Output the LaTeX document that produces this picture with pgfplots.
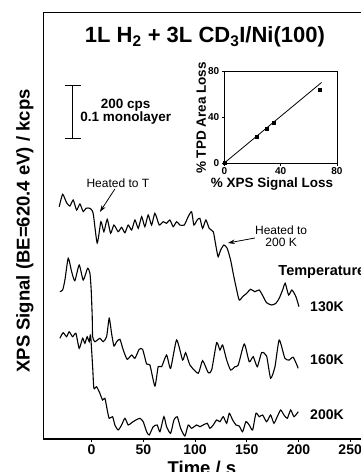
\documentclass[border=0pt]{standalone}
\usepackage{fontspec}
\setmainfont{Liberation Sans}
\usepackage{pgfplots}
\pgfplotsset{compat=1.18}
\usetikzlibrary{arrows.meta}

\pgfplotstableread{
t y
-31.3 232.3
-28.0 244.7
-24.2 236.3
-21.0 233
-17.8 239
-14.5 229
-11.3 235
-8.1 227.3
-5.5 230.7
-1.6 230.7
1.5 225.7
5.4 196
9.0 217.3
11.9 207.3
15.1 219.7
18.4 205.7
21.6 214
25.7 207.3
29.0 211.7
32.2 206.3
35.4 214
38.7 209
41.9 219
45.1 210.7
48.4 222.3
51.5 212.3
54.7 224
58.0 214
61.2 225.7
65.4 214
69.2 217.3
72.5 215.7
75.7 219
78.9 212.3
82.2 217.3
85.4 214
89.6 214
93.4 222.3
96.7 227.3
98.9 214
102.1 219
104.7 220.7
107.3 210.7
110.5 219
113.7 210.7
117.6 207.3
119.2 199
120.9 189
122.4 182.3
124.8 189
127.9 194
131.1 190.7
134.4 179
136.9 165.7
139.6 152.3
142.7 139
146.0 142.3
149.9 145.7
153.8 149.7
157.9 147.3
162.1 149
166.0 142.3
169.2 136.3
174.1 134
178.2 135.7
181.4 140.7
184.7 149
187.2 155.7
190.5 144
193.7 149
197.6 142.3
200.5 132.3
}\tracA

\pgfplotstableread{
t y
-30.7 147.3
-28.0 149
-25.8 159
-22.6 180.7
-19.3 167.3
-16.2 158.3
-12.0 174
-8.1 159
-3.9 170.7
-1.6 165.7
-0.4 149
0.6 122.3
1.0 102.3
3.2 97.3
8.0 100.7
11.2 97.3
14.5 102.3
17.0 120.7
19.3 105.7
21.6 93
24.2 97.3
27.4 99.7
30.6 89
34.4 79.7
38.7 84
41.9 80.7
46.0 89.7
49.3 89.7
53.2 75
56.4 74
61.2 53
64.4 72.3
67.7 72.3
72.5 84
76.4 70.7
82.2 99
88.0 79
90.9 86.3
95.1 74
103.1 65.7
107.3 78.3
112.8 66.3
116.1 69
120.9 96.3
124.1 89
126.7 94
130.6 79
134.4 69
138.6 72.3
141.8 74
147.6 95
152.4 77.3
156.3 82.3
160.2 72.3
164.4 86.3
169.2 83
173.1 60.7
177.3 72.3
181.4 99
186.9 80.7
191.1 79
195.0 81.7
199.8 70.7
}\tracB

\pgfplotstableread{
t y
-30.7 100.7
-27.5 106.3
-24.2 102.3
-21.7 107.3
-18.4 102.3
-15.2 105.7
-12.0 90.7
-8.7 100.7
-6.5 95.7
-4.3 102.3
-2.3 97.3
-1.0 104
1.0 72.3
2.2 50.7
4.8 52.3
8.0 45.7
10.6 39
12.9 40.7
15.1 29
17.0 20.7
20.3 22.3
22.5 14
25.7 9
29.0 14
32.2 20.7
35.4 14
38.7 16.3
42.8 19
46.7 20.7
49.9 17.3
53.2 7.3
55.7 4
59.6 12.3
63.4 14
66.1 7.3
69.9 22.3
72.5 12.3
76.4 5.7
79.6 19
82.8 22.3
86.1 10.7
90.2 3
93.4 14
96.7 10.7
101.5 14
104.7 12.3
107.9 14
111.8 15.7
114.4 10.7
117.6 14
120.9 19
124.1 17.3
127.3 22.3
130.6 15.7
133.1 25.7
136.4 19
139.6 14
142.7 13
146.0 7.3
149.2 17.3
152.4 14
155.7 9
158.9 25.7
162.1 22.3
165.4 24
169.2 17.3
173.1 24
176.3 15.7
179.5 22.3
182.8 29
186.0 24
189.2 20.7
192.5 29
195.7 22.3
199.8 27.3
}\tracC

\begin{document}
\begin{tikzpicture}[x=1pt,y=1pt]
\path[use as bounding box, clip] (0,0) rectangle (361,-472);
\begin{axis}[
  at={(43pt,-439pt)}, anchor=south west, scale only axis,
  width=333pt, height=427pt,
  xmin=-47, xmax=275, ymin=0, ymax=427,
  clip=false,
  axis line style={line width=0.7pt},
  xtick={0,50,...,250}, ytick=\empty,
  tick pos=left, tick align=outside, major tick length=3pt,
  tick style={line width=0.8pt, black},
  ticklabel style={font=\bfseries\fontsize{14}{14}\selectfont},
  /pgf/number format/assume math mode=true,
  xticklabel style={yshift=1pt},
]
\draw[line width=1.8pt] (rel axis cs:0,0) -- (rel axis cs:1,0);
\addplot[black, line width=1.1pt, smooth, tension=0.35] table[x=t,y=y] {\tracA};
\addplot[black, line width=1.1pt, smooth, tension=0.35] table[x=t,y=y] {\tracB};
\addplot[black, line width=1.1pt, smooth, tension=0.35] table[x=t,y=y] {\tracC};
% labels
\node[rotate=90, font=\bfseries\fontsize{18.5}{18.5}\selectfont] at (axis cs:-64.5,208) {XPS Signal (BE=620.4 eV) / kcps};
\node[font=\bfseries\fontsize{18.5}{18.5}\selectfont] at (axis cs:106.7,-29) {Time / s};
\node[font=\bfseries\fontsize{22}{22}\selectfont] at (axis cs:109.6,402) {1L H\textsubscript{2} + 3L CD\textsubscript{3}I/Ni(100)};
% scale bar
\draw[line width=0.8pt] (axis cs:-18.1,301) -- (axis cs:-18.1,354);
\draw[line width=0.8pt] (axis cs:-25.8,354) -- (axis cs:-10.4,354);
\draw[line width=0.8pt] (axis cs:-25.8,301) -- (axis cs:-10.4,301);
\node[font=\bfseries\fontsize{13.5}{13}\selectfont, align=center] at (axis cs:33,327) {200 cps\\0.1 monolayer};
% annotations
\node[font=\fontsize{12}{12}\selectfont] at (axis cs:25.4,256) {Heated to T};
\draw[line width=0.8pt, -{Stealth[length=7pt,width=4.5pt]}] (axis cs:22.5,250) -- (axis cs:8.0,227);
\node[font=\fontsize{12}{12.5}\selectfont, align=center] at (axis cs:183.3,203) {Heated to\\200 K};
\draw[line width=0.8pt, -{Stealth[length=7pt,width=4.5pt]}] (axis cs:157.9,201) -- (axis cs:131.8,196);
\node[font=\bfseries\fontsize{14.5}{14.5}\selectfont, anchor=west] at (axis cs:177.3,167) {Temperature};
\node[font=\bfseries\fontsize{14}{14}\selectfont, anchor=west] at (axis cs:208,132) {130K};
\node[font=\bfseries\fontsize{14}{14}\selectfont, anchor=west] at (axis cs:208,79) {160K};
\node[font=\bfseries\fontsize{14}{14}\selectfont, anchor=west] at (axis cs:208,24) {200K};
\end{axis}
\begin{axis}[
  at={(224.3pt,-163pt)}, anchor=south west, scale only axis,
  width=112.7pt, height=92pt,
  xmin=0, xmax=80, ymin=0, ymax=80,
  xtick={0,40,80}, ytick={0,40,80},
  tick pos=left, tick align=outside, major tick length=2.5pt,
  axis line style={line width=0.7pt},
  tick style={line width=0.7pt, black},
  ticklabel style={font=\bfseries\fontsize{10}{10}\selectfont},
  /pgf/number format/assume math mode=true,
  xticklabel style={yshift=2pt},
  yticklabel style={xshift=1pt},
  label style={font=\bfseries\fontsize{13.5}{13.5}\selectfont},
  xlabel={\% XPS Signal Loss},
  ylabel={\% TPD Area Loss},
  xlabel style={at={(axis description cs:0.423,-0.23)}, anchor=center},
  ylabel style={at={(axis description cs:-0.205,0.489)}, anchor=center},
  clip=false,
]
\addplot[black, line width=0.8pt] coordinates {(0,0) (69,70)};
\addplot[only marks, mark=square*, mark size=1.6pt, black] coordinates {(0,0) (23,23) (30,30) (35,35) (68,64)};
\end{axis}
\end{tikzpicture}
\end{document}
